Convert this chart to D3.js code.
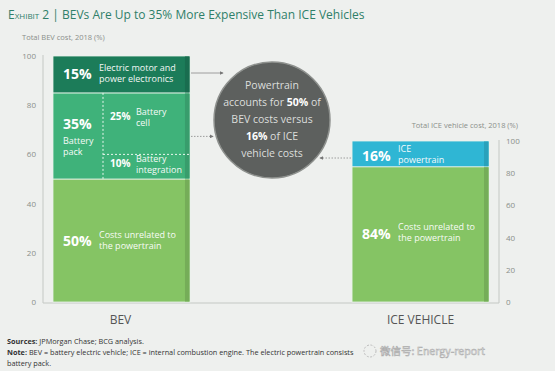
<!DOCTYPE html>
<html>
<head>
<meta charset="utf-8">
<script src="https://cdn.jsdelivr.net/npm/d3@7/dist/d3.min.js"></script>
<style>
  body { margin: 0; background: #eef0ee; }
  svg { display: block; font-family: "Open Sans", sans-serif; }
</style>
</head>
<body>
<script>
// stacked segments, bottom to top
var bevSegments = [
  { key: "other", value: 50, pct: "50%", lines: ["Costs unrelated to", "the powertrain"], color: "#85c464" },
  { key: "pack", value: 35, pct: "35%", lines: ["Battery", "pack"], color: "#3fb27a" },
  { key: "motor", value: 15, pct: "15%", lines: ["Electric motor and", "power electronics"], color: "#1c7c59" }
];
var packParts = [
  { key: "integration", value: 10, pct: "10%", lines: ["Battery", "integration"] },
  { key: "cell", value: 25, pct: "25%", lines: ["Battery", "cell"] }
];
var iceSegments = [
  { key: "other", value: 84, pct: "84%", lines: ["Costs unrelated to", "the powertrain"], color: "#85c464" },
  { key: "powertrain", value: 16, pct: "16%", lines: ["ICE", "powertrain"], color: "#2fb6d4" }
];
var categories = ["BEV", "ICE VEHICLE"];
var axisTicks = [0, 20, 40, 60, 80, 100];

var width = 555, height = 371;
var svg = d3.select("body").append("svg").attr("width", width).attr("height", height);

var x = d3.scaleBand().domain(categories).range([53, 489]).paddingInner(0.542).paddingOuter(0);
var yL = d3.scaleLinear().domain([0, 100]).range([302, 56]);
var yR = d3.scaleLinear().domain([0, 100]).range([302, 141]);

function stack(segs) {
  var acc = 0;
  return segs.map(function(s) { var o = Object.assign({}, s, { y0: acc, y1: acc + s.value }); acc += s.value; return o; });
}

// title
var title = svg.append("text").attr("x", 8).attr("y", 19).attr("fill", "#2f7f69").attr("font-size", 12);
title.append("tspan").attr("font-variant", "small-caps").text("Exhibit 2");
title.append("tspan").text(" | BEVs Are Up to 35% More Expensive Than ICE Vehicles");

svg.append("text").attr("x", 22).attr("y", 40).attr("fill", "#8a8f8a").attr("font-size", 7.5)
  .text("Total BEV cost, 2018 (%)");
svg.append("text").attr("x", 518).attr("y", 128).attr("text-anchor", "end").attr("fill", "#8a8f8a").attr("font-size", 7.5)
  .text("Total ICE vehicle cost, 2018 (%)");

// axes
var axL = svg.append("g").attr("transform", "translate(43,0)")
  .call(d3.axisLeft(yL).tickValues(axisTicks).tickSize(0).tickPadding(7));
var axR = svg.append("g").attr("transform", "translate(499,0)")
  .call(d3.axisRight(yR).tickValues(axisTicks).tickSize(0).tickPadding(7));
[axL, axR].forEach(function(a) {
  a.select(".domain").attr("stroke", "#c4c8c4");
  a.selectAll("text").attr("fill", "#8a8f8a").attr("font-size", 8).attr("font-family", "Open Sans");
});
axL.select(".domain").attr("d", "M0,55V303");
axR.select(".domain").attr("d", "M0,140V303");

// baseline
svg.append("line").attr("x1", 43).attr("x2", 499).attr("y1", 303).attr("y2", 303)
  .attr("stroke", "#c4c8c4");

function drawBar(cat, segs, y) {
  var bx = x(cat), bw = x.bandwidth();
  var g = svg.append("g");
  var st = stack(segs);
  g.selectAll("rect.seg").data(st).enter().append("rect").attr("class", "seg")
    .attr("x", bx).attr("width", bw)
    .attr("y", function(d) { return y(d.y1); })
    .attr("height", function(d) { return y(d.y0) - y(d.y1); })
    .attr("fill", function(d) { return d.color; })
    .attr("stroke", "#e8f3ea").attr("stroke-width", 0.8);
  // darker right edge
  g.selectAll("rect.edge").data(st).enter().append("rect").attr("class", "edge")
    .attr("x", bx + bw - 5).attr("width", 4.5)
    .attr("y", function(d) { return y(d.y1) + 0.5; })
    .attr("height", function(d) { return y(d.y0) - y(d.y1) - 1; })
    .attr("fill", function(d) { return d3.color(d.color).darker(0.35); });
  return { g: g, st: st, bx: bx, bw: bw };
}

function label(g, px, py, d, big) {
  var fs = big ? 14 : 10;
  g.append("text").attr("x", px).attr("y", py + (big ? 5 : 3.5)).attr("fill", "#fff")
    .attr("font-weight", "bold").attr("font-size", fs).text(d.pct);
}
function lines(g, px, py, arr) {
  var t = g.append("text").attr("fill", "#ffffff").attr("font-size", 9).attr("opacity", 0.95);
  arr.forEach(function(l, i) {
    t.append("tspan").attr("x", px).attr("y", py + i * 11).text(l);
  });
}

// BEV bar
var bev = drawBar("BEV", bevSegments, yL);
bev.st.forEach(function(d) {
  var mid = (yL(d.y0) + yL(d.y1)) / 2;
  if (d.key === "pack") {
    label(bev.g, bev.bx + 10, yL(d.y1) + 31, d, true);
    lines(bev.g, bev.bx + 10, yL(d.y1) + 51, d.lines);
  } else {
    label(bev.g, bev.bx + 10, mid, d, true);
    lines(bev.g, bev.bx + 46, mid - 3, d.lines);
  }
});
var pack = bevSegments[1];
var packBase = stack(bevSegments)[1].y0;
var divX = bev.bx + 50;
bev.g.append("line").attr("x1", divX).attr("x2", divX)
  .attr("y1", yL(packBase + pack.value)).attr("y2", yL(packBase))
  .attr("stroke", "#e8f6ec").attr("stroke-width", 1).attr("stroke-dasharray", "2,2");
var pp = stack(packParts).map(function(d) { return Object.assign(d, { y0: d.y0 + packBase, y1: d.y1 + packBase }); });
bev.g.append("line").attr("x1", divX).attr("x2", bev.bx + bev.bw)
  .attr("y1", yL(pp[0].y1)).attr("y2", yL(pp[0].y1))
  .attr("stroke", "#e8f6ec").attr("stroke-width", 1).attr("stroke-dasharray", "2,2");
pp.forEach(function(d) {
  var mid = (yL(d.y0) + yL(d.y1)) / 2;
  var off = d.key === "cell" ? -7 : -3;
  label(bev.g, divX + 7, mid + off, d, false);
  lines(bev.g, divX + 33, mid + off - 2, d.lines);
});

// ICE bar
var ice = drawBar("ICE VEHICLE", iceSegments, yR);
ice.st.forEach(function(d) {
  var mid = (yR(d.y0) + yR(d.y1)) / 2;
  if (d.key === "powertrain") mid = mid + 2;
  label(ice.g, ice.bx + 10, mid, d, true);
  lines(ice.g, ice.bx + 46, mid - 4, d.lines);
});

// category labels
svg.selectAll("text.cat").data(categories).enter().append("text").attr("class", "cat")
  .attr("x", function(d) { return x(d) + x.bandwidth() / 2 + (d === "BEV" ? -1 : 0); })
  .attr("y", 324).attr("text-anchor", "middle").attr("fill", "#555").attr("font-size", 12)
  .text(function(d) { return d; });

// callout circle
var cx = 272, cy = 120, r = 58;
svg.append("defs").append("marker").attr("id", "ah").attr("viewBox", "0 0 6 6")
  .attr("refX", 5).attr("refY", 3).attr("markerWidth", 5).attr("markerHeight", 5).attr("orient", "auto")
  .append("path").attr("d", "M0,0L6,3L0,6Z").attr("fill", "#777");
svg.append("line").attr("x1", 191).attr("x2", 223).attr("y1", 73).attr("y2", 73)
  .attr("stroke", "#888").attr("stroke-width", 0.8).attr("marker-end", "url(#ah)");
svg.append("line").attr("x1", 191).attr("x2", 213).attr("y1", yL(pp[0].y1) - 18).attr("y2", yL(pp[0].y1) - 18)
  .attr("stroke", "#888").attr("stroke-width", 0.8).attr("stroke-dasharray", "1.5,1.5").attr("marker-end", "url(#ah)");
svg.append("line").attr("x1", 351).attr("x2", 320).attr("y1", 158).attr("y2", 158)
  .attr("stroke", "#888").attr("stroke-width", 0.8).attr("stroke-dasharray", "1.5,1.5").attr("marker-end", "url(#ah)");

svg.append("circle").attr("cx", cx).attr("cy", cy).attr("r", r)
  .attr("fill", "#5d605e").attr("stroke", "#8e918e").attr("stroke-width", 1.5);
var cText = [
  [["Powertrain", false]],
  [["accounts for ", false], ["50%", true], [" of", false]],
  [["BEV costs versus", false]],
  [["16%", true], [" of ICE", false]],
  [["vehicle costs", false]]
];
cText.forEach(function(line, i) {
  var t = svg.append("text").attr("x", cx).attr("y", cy - 31 + i * 17).attr("text-anchor", "middle")
    .attr("font-size", 10.5).attr("fill", "#dcdedc");
  line.forEach(function(p) {
    t.append("tspan").attr("font-weight", p[1] ? "bold" : "normal").attr("fill", p[1] ? "#fff" : "#dcdedc").text(p[0]);
  });
});

// footer
var f1 = svg.append("text").attr("x", 7).attr("y", 344).attr("font-size", 7.3).attr("fill", "#333");
f1.append("tspan").attr("font-weight", "bold").text("Sources: ");
f1.append("tspan").text("JPMorgan Chase; BCG analysis.");
var f2 = svg.append("text").attr("x", 7).attr("y", 355).attr("font-size", 7.3).attr("fill", "#333");
f2.append("tspan").attr("font-weight", "bold").text("Note: ");
f2.append("tspan").text("BEV = battery electric vehicle; ICE = internal combustion engine. The electric powertrain consists");
svg.append("text").attr("x", 7).attr("y", 366).attr("font-size", 7.3).attr("fill", "#333").text("battery pack.");

// watermark
svg.append("circle").attr("cx", 370).attr("cy", 351).attr("r", 6).attr("fill", "none")
  .attr("stroke", "#bdbdbd").attr("stroke-width", 1).attr("stroke-dasharray", "2,1.5");
svg.append("text").attr("x", 380).attr("y", 355).attr("font-size", 10.5).attr("fill", "#f6f6f6")
  .attr("stroke", "#a8a8a8").attr("stroke-width", 0.5)
  .attr("font-family", "Noto Sans CJK SC, sans-serif").text("微信号: Energy-report");
</script>
</body>
</html>
